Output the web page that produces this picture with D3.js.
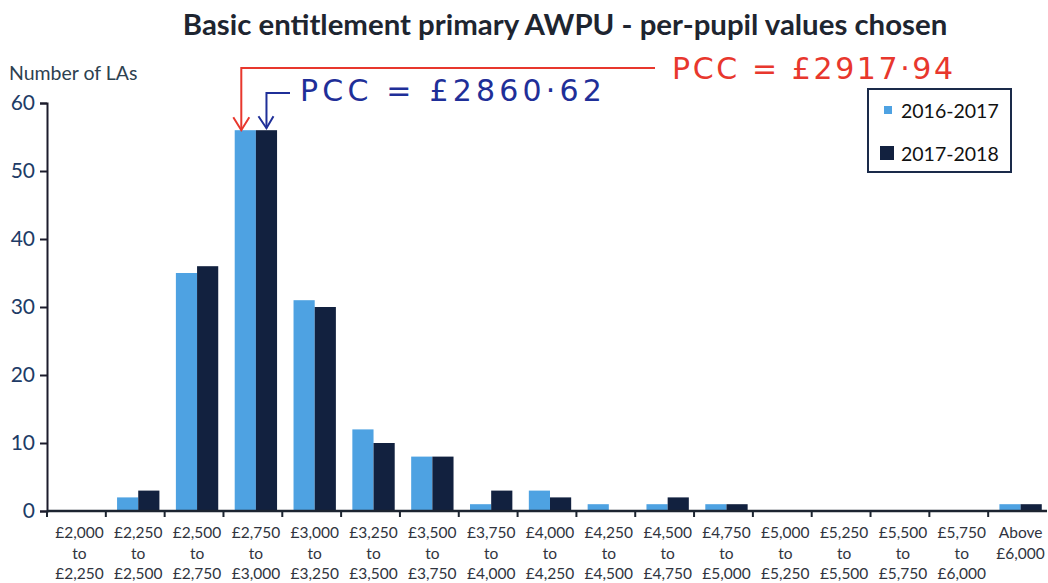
<!DOCTYPE html>
<html>
<head>
<meta charset="utf-8">
<script src="https://cdnjs.cloudflare.com/ajax/libs/d3/7.8.5/d3.min.js"></script>
<style>
  body { margin: 0; background: #fff; }
  svg { display: block; }
</style>
</head>
<body>
<div id="chart"></div>
<script>
// per-pupil value bands (x axis), three lines each
var bandLabels = [
  ["£2,000", "to", "£2,250"], ["£2,250", "to", "£2,500"], ["£2,500", "to", "£2,750"],
  ["£2,750", "to", "£3,000"], ["£3,000", "to", "£3,250"], ["£3,250", "to", "£3,500"],
  ["£3,500", "to", "£3,750"], ["£3,750", "to", "£4,000"], ["£4,000", "to", "£4,250"],
  ["£4,250", "to", "£4,500"], ["£4,500", "to", "£4,750"], ["£4,750", "to", "£5,000"],
  ["£5,000", "to", "£5,250"], ["£5,250", "to", "£5,500"], ["£5,500", "to", "£5,750"],
  ["£5,750", "to", "£6,000"], ["Above", "£6,000"]
];
var seriesNames = ["2016-2017", "2017-2018"];
var values2016 = [0, 2, 35, 56, 31, 12, 8, 1, 3, 1, 1, 1, 0, 0, 0, 0, 1];
var values2017 = [0, 3, 36, 56, 30, 10, 8, 3, 2, 0, 2, 1, 0, 0, 0, 0, 1];
var yTicks = [0, 10, 20, 30, 40, 50, 60];

var colors = ["#4ea2e2", "#12213f"];
var svgWidth = 1048, svgHeight = 583;
var margin = { top: 103, right: 1, bottom: 72, left: 47 };
var chartWidth = svgWidth - margin.left - margin.right;
var chartHeight = svgHeight - margin.top - margin.bottom;

var svg = d3.select("#chart").append("svg")
  .attr("width", svgWidth)
  .attr("height", svgHeight)
  .style("font-family", "Lato, 'Open Sans', sans-serif");

var chartGroup = svg.append("g")
  .attr("transform", `translate(${margin.left}, ${margin.top})`);

var idx = d3.range(bandLabels.length);
var xScale = d3.scaleBand().domain(idx).range([0, chartWidth]).paddingInner(0.28).paddingOuter(0.14);
var xSub = d3.scaleBand().domain([0, 1]).range([0, xScale.bandwidth()]);
var yScale = d3.scaleLinear().domain([0, 60]).range([chartHeight, 0]);

// bars (the scan puts them a few px right of the band centre)
var barShift = 3;
var series = [values2016, values2017];
series.forEach(function(vals, s) {
  chartGroup.selectAll(".bar" + s)
    .data(vals)
    .enter()
    .append("rect")
    .attr("x", (d, i) => xScale(i) + xSub(s) + barShift)
    .attr("y", d => yScale(d))
    .attr("width", xSub.bandwidth())
    .attr("height", d => chartHeight - yScale(d))
    .attr("fill", colors[s]);
});

// y axis
var yAxis = d3.axisLeft(yScale).tickValues(yTicks).tickSize(7).tickPadding(5);
var yG = chartGroup.append("g").call(yAxis);
yG.select(".domain").attr("stroke", "#1c1c2c").attr("stroke-width", 2);
yG.selectAll(".tick line").attr("stroke", "#1c1c2c").attr("stroke-width", 2);
yG.selectAll("text")
  .attr("font-size", 21)
  .attr("font-family", "Lato, sans-serif")
  .attr("fill", "#203b66");

// x axis: band boundary ticks
var step = xScale.step();
var x0 = xScale(0) - xScale.paddingOuter() * step;
var boundaries = d3.range(bandLabels.length + 1).map(i => x0 + i * step);
chartGroup.append("line")
  .attr("x1", 0).attr("x2", chartWidth)
  .attr("y1", chartHeight).attr("y2", chartHeight)
  .attr("stroke", "#1c2430").attr("stroke-width", 2.5);
chartGroup.selectAll(".xtick")
  .data(boundaries.slice(0, bandLabels.length))
  .enter()
  .append("line")
  .attr("x1", d => d).attr("x2", d => d)
  .attr("y1", chartHeight).attr("y2", chartHeight + 6)
  .attr("stroke", "#1c2430").attr("stroke-width", 2);

var labelGroups = chartGroup.selectAll(".xlabel")
  .data(bandLabels)
  .enter()
  .append("text")
  .attr("text-anchor", "middle")
  .attr("font-size", 15.5)
  .attr("fill", "#30343e")
  .attr("transform", (d, i) => `translate(${xScale(i) + xScale.bandwidth() / 2 + barShift}, ${chartHeight + 27})`);
labelGroups.selectAll("tspan")
  .data(d => d)
  .enter()
  .append("tspan")
  .attr("x", 0)
  .attr("y", (d, j) => j * 20.6)
  .text(d => d);

// title
var title = svg.append("text")
  .attr("x", 565)
  .attr("y", 35)
  .attr("text-anchor", "middle")
  .attr("font-weight", "bold")
  .attr("font-size", 24)
  .attr("fill", "#1e2530")
  .text("Basic entitlement primary AWPU - per-pupil values chosen");
// fit title to the width in the picture
var tw = title.node().getComputedTextLength();
title.attr("font-size", 24 * 765 / tw);

svg.append("text")
  .attr("x", 9)
  .attr("y", 80)
  .attr("font-size", 19.5)
  .attr("fill", "#2d4150")
  .text("Number of LAs");

// legend
var legend = svg.append("g").attr("transform", "translate(868, 89)");
legend.append("rect")
  .attr("width", 143).attr("height", 83)
  .attr("fill", "#fff")
  .attr("stroke", "#1a2a4a").attr("stroke-width", 2);
seriesNames.forEach(function(name, s) {
  var size = s === 0 ? 8 : 14;
  var cy = s === 0 ? 22 : 65;
  legend.append("rect")
    .attr("x", s === 0 ? 16 : 12)
    .attr("y", cy - size / 2 - 1)
    .attr("width", size).attr("height", size)
    .attr("fill", colors[s]);
  legend.append("text")
    .attr("x", 33)
    .attr("y", cy + 7)
    .attr("font-size", 19.5)
    .attr("fill", "#111")
    .text(name);
});

// handwritten annotations
var lightX = margin.left + barShift + xScale(3) + xSub(0) + xSub.bandwidth() / 2;
var darkX = margin.left + barShift + xScale(3) + xSub(1) + xSub.bandwidth() / 2;
var lightTop = margin.top + yScale(values2016[3]);
var darkTop = margin.top + yScale(values2017[3]);

var red = "#e8372d", blue = "#1f2f98";
svg.append("path")
  .attr("d", `M${lightX - 4},${lightTop} L${lightX - 4},68 L655,68`)
  .attr("fill", "none").attr("stroke", red).attr("stroke-width", 2);
svg.append("path")
  .attr("d", `M${lightX - 12},${lightTop - 13} L${lightX - 4},${lightTop} L${lightX + 4},${lightTop - 13}`)
  .attr("fill", "none").attr("stroke", red).attr("stroke-width", 2);
svg.append("text")
  .attr("x", 672).attr("y", 79)
  .attr("font-size", 30)
  .attr("font-family", "'DejaVu Sans', sans-serif")
  .attr("letter-spacing", 2.6)
  .attr("fill", red)
  .text("PCC = £2917·94");

svg.append("path")
  .attr("d", `M290,93 L${darkX},93 L${darkX},${darkTop - 2}`)
  .attr("fill", "none").attr("stroke", blue).attr("stroke-width", 2);
svg.append("path")
  .attr("d", `M${darkX - 8},${darkTop - 14} L${darkX},${darkTop - 2} L${darkX + 7},${darkTop - 14}`)
  .attr("fill", "none").attr("stroke", blue).attr("stroke-width", 2);
svg.append("text")
  .attr("x", 300).attr("y", 101)
  .attr("font-size", 30)
  .attr("font-family", "'DejaVu Sans', sans-serif")
  .attr("letter-spacing", 4.2)
  .attr("fill", blue)
  .text("PCC = £2860·62");
</script>
</body>
</html>
